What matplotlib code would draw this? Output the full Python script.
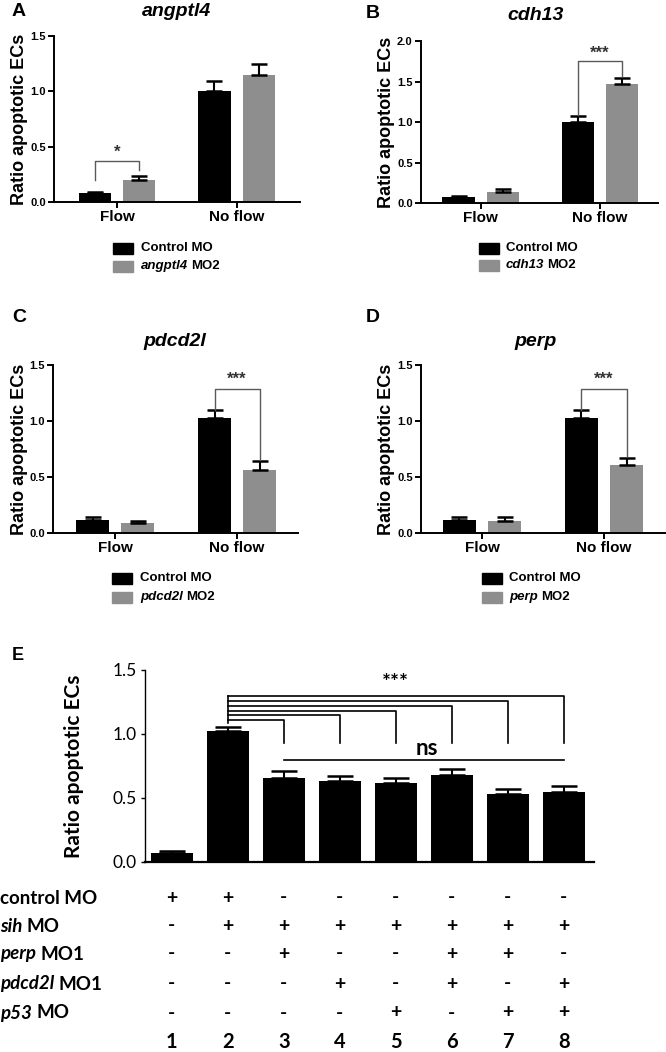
import matplotlib
matplotlib.use('Agg')
import matplotlib.pyplot as plt
import numpy as np
from matplotlib.patches import Rectangle
from matplotlib.transforms import blended_transform_factory

plt.rcParams['font.family'] = 'Liberation Sans'
plt.rcParams['font.weight'] = 'bold'

W, H = 666, 1052
GREY = '#8e8e8e'

groups = ['Flow', 'No flow']

# A - angptl4
a_ctrl, a_ctrl_err = [0.08, 1.00], [0.01, 0.09]
a_mo, a_mo_err = [0.20, 1.15], [0.035, 0.10]
# B - cdh13
b_ctrl, b_ctrl_err = [0.07, 1.00], [0.012, 0.08]
b_mo, b_mo_err = [0.14, 1.47], [0.03, 0.075]
# C - pdcd2l
c_ctrl, c_ctrl_err = [0.12, 1.03], [0.025, 0.065]
c_mo, c_mo_err = [0.09, 0.56], [0.02, 0.08]
# D - perp
d_ctrl, d_ctrl_err = [0.12, 1.03], [0.025, 0.065]
d_mo, d_mo_err = [0.11, 0.61], [0.03, 0.06]

# E
e_lanes = ['1', '2', '3', '4', '5', '6', '7', '8']
e_vals = [0.07, 1.02, 0.66, 0.63, 0.62, 0.68, 0.53, 0.55]
e_err = [0.015, 0.035, 0.05, 0.04, 0.04, 0.05, 0.04, 0.04]
e_rows = [[('control MO', 'normal')],
          [('sih', 'italic'), (' MO', 'normal')],
          [('perp', 'italic'), (' MO1', 'normal')],
          [('pdcd2l', 'italic'), (' MO1', 'normal')],
          [('p53', 'italic'), (' MO', 'normal')]]
e_table = [['+', '+', '-', '-', '-', '-', '-', '-'],
           ['-', '+', '+', '+', '+', '+', '+', '+'],
           ['-', '-', '+', '-', '-', '+', '+', '-'],
           ['-', '-', '-', '+', '-', '+', '-', '+'],
           ['-', '-', '-', '-', '+', '-', '+', '+']]
# *** comparisons of lane 2 with lanes 3..8
e_cmp_levels = [1.11, 1.15, 1.18, 1.22, 1.26, 1.30]

fig = plt.figure(figsize=(W / 100, H / 100), dpi=100)


def px_rect(left, top, right, bottom):
    return [left / W, 1 - bottom / H, (right - left) / W, (bottom - top) / H]


def group_panel(rect, xlim, ctrl, ctrl_err, mo, mo_err, ymax, yticks, label_x):
    ax = fig.add_axes(rect)
    x = np.arange(len(groups))
    off, bw = 0.185, 0.27
    ax.bar(x - off, ctrl, bw, color='black', zorder=2)
    ax.bar(x + off, mo, bw, color=GREY, zorder=2)
    ax.errorbar(x - off, ctrl, yerr=[np.zeros(2), ctrl_err], fmt='none',
                ecolor='black', elinewidth=1.5, capsize=5.5, capthick=1.8, zorder=3)
    ax.errorbar(x + off, mo, yerr=[np.zeros(2), mo_err], fmt='none',
                ecolor='black', elinewidth=1.5, capsize=5.5, capthick=1.8, zorder=3)
    ax.set_xlim(*xlim)
    ax.set_ylim(0, ymax)
    ax.set_yticks(yticks)
    ax.set_yticklabels(['%.1f' % v for v in yticks], fontsize=8, fontweight='bold')
    ax.set_xticks(x)
    ax.set_xticklabels(groups, fontsize=11, fontweight='bold')
    for s in ['top', 'right']:
        ax.spines[s].set_visible(False)
    for s in ['left', 'bottom']:
        ax.spines[s].set_linewidth(1.4)
    ax.tick_params(width=1.4, length=4, pad=2)
    ax.set_ylabel('Ratio apoptotic ECs', fontsize=13, fontweight='bold')
    ax.yaxis.set_label_coords(label_x, 0.5)
    return ax


def bracket(ax, i0, i1, y0, ytop, y1, stars, star_y, size=12):
    ax.plot([i0, i0, i1, i1], [y0, ytop, ytop, y1], color='#5a5a5a', lw=1.0, zorder=4)
    ax.text((i0 + i1) / 2, star_y, stars, ha='center', va='center',
            fontsize=size, fontweight='bold', color='#333333')


axA = group_panel(px_rect(54, 36, 300, 202), (-0.527, 1.53), a_ctrl, a_ctrl_err,
                  a_mo, a_mo_err, 1.5, [0, 0.5, 1.0, 1.5], -0.106)
bracket(axA, -0.185, 0.185, 0.20, 0.37, 0.29, '*', 0.45)

axB = group_panel(px_rect(421, 41, 658, 203), (-0.50, 1.49), b_ctrl, b_ctrl_err,
                  b_mo, b_mo_err, 2.0, [0, 0.5, 1.0, 1.5, 2.0], -0.11)
bracket(axB, 1 - 0.185, 1 + 0.185, 1.09, 1.75, 1.57, '***', 1.85)

axC = group_panel(px_rect(53, 365, 298, 533), (-0.51, 1.5), c_ctrl, c_ctrl_err,
                  c_mo, c_mo_err, 1.5, [0, 0.5, 1.0, 1.5], -0.102)
bracket(axC, 1 - 0.185, 1 + 0.185, 1.10, 1.29, 0.65, '***', 1.37)

axD = group_panel(px_rect(421, 365, 665, 533), (-0.50, 1.5), d_ctrl, d_ctrl_err,
                  d_mo, d_mo_err, 1.5, [0, 0.5, 1.0, 1.5], -0.107)
bracket(axD, 1 - 0.185, 1 + 0.185, 1.10, 1.29, 0.69, '***', 1.37)

# panel E
axE = fig.add_axes(px_rect(145, 670, 594, 862))
xe = np.arange(len(e_lanes))
axE.bar(xe, e_vals, 0.75, color='black', zorder=2)
axE.errorbar(xe, e_vals, yerr=[np.zeros(len(xe)), e_err], fmt='none', ecolor='black',
             elinewidth=1.5, capsize=9.5, capthick=1.8, zorder=3)
axE.set_xlim(-0.48, 7.54)
axE.set_ylim(0, 1.5)
axE.set_yticks([0, 0.5, 1.0, 1.5])
axE.set_yticklabels(['0.0', '0.5', '1.0', '1.5'], fontsize=12.5, fontweight='normal', family='Lato')
axE.set_xticks([])
for s in ['top', 'right']:
    axE.spines[s].set_visible(False)
axE.spines['left'].set_linewidth(1.0)
axE.spines['bottom'].set_linewidth(1.6)
axE.tick_params(axis='y', width=1.0, length=3, pad=3)
axE.set_ylabel('Ratio apoptotic ECs', fontsize=15, fontweight='bold', family='Lato')
axE.yaxis.set_label_coords(-0.135, 0.5)

for k, lvl in enumerate(e_cmp_levels):
    j = 2 + k
    axE.plot([1, j, j], [lvl, lvl, 0.93], color='black', lw=1.2, zorder=4)
axE.plot([1, 1], [1.085, max(e_cmp_levels)], color='black', lw=1.2, zorder=4)
axE.text(4.0, 1.40, '***', ha='center', va='center', fontsize=15, fontweight='bold', family='Lato')
axE.plot([2, 7], [0.80, 0.80], color='black', lw=1.2, zorder=4)
axE.text(4.55, 0.885, 'ns', ha='center', va='center', fontsize=16, fontweight='bold', family='Lato')

# overlay in pixel coordinates for titles, legends and table
ov = fig.add_axes([0, 0, 1, 1])
ov.set_xlim(0, W)
ov.set_ylim(H, 0)
ov.axis('off')


def rich_text(x, y, parts, size, family, transform=None):
    tr = transform if transform is not None else ov.transData
    s, st = parts[0]
    t = ov.text(x, y, s, transform=tr, fontsize=size, family=family, fontweight='bold',
                fontstyle=st, ha='left', va='center')
    for s, st in parts[1:]:
        dx = 0.0
        if s.startswith(' '):
            dx = 0.22 * size
            s = s.lstrip()
        t = ov.annotate(s, xy=(1, 0.5), xycoords=t, xytext=(dx, 0), textcoords='offset points',
                        fontsize=size, family=family, fontweight='bold', fontstyle=st,
                        ha='left', va='center', annotation_clip=False)
    return t


for letter, lx, ly in [('A', 12, 12), ('B', 366, 13), ('C', 12, 317), ('D', 366, 317)]:
    ov.text(lx, ly, letter, fontsize=14, fontweight='bold', ha='left', va='center')
ov.text(12, 655, 'E', fontsize=13, fontweight='bold', ha='left', va='center')

for title, tx, ty in [('angptl4', 177, 11), ('cdh13', 536, 15), ('pdcd2l', 175, 342), ('perp', 536, 342)]:
    ov.text(tx, ty, title, fontsize=14, fontweight='bold', fontstyle='italic', ha='center', va='center')

legends = [(113, 141, 248, 266, 'angptl4'), (479, 506, 248, 265, 'cdh13'),
           (112, 140, 578, 597, 'pdcd2l'), (482, 509, 578, 597, 'perp')]
for bx, tx, y1, y2, gene in legends:
    ov.add_patch(Rectangle((bx, y1 - 5.5), 20, 11, color='black'))
    ov.add_patch(Rectangle((bx, y2 - 5.5), 20, 11, color=GREY))
    rich_text(tx, y1, [('Control MO', 'normal')], 9.5, 'Liberation Sans')
    rich_text(tx, y2, [(gene, 'italic'), (' MO2', 'normal')], 9.5, 'Liberation Sans')

# condition table under panel E
row_y = [898, 926, 954, 984, 1013]
tab_tr = blended_transform_factory(axE.transData, ov.transData)
for parts, ry, marks in zip(e_rows, row_y, e_table):
    rich_text(0, ry, parts, 13.5, 'Lato')
    for i, m in enumerate(marks):
        ov.text(i, ry, m, transform=tab_tr, ha='center', va='center',
                fontsize=14, fontweight='bold', family='Lato')
for i, lane in enumerate(e_lanes):
    ov.text(i, 1042, lane, transform=tab_tr, ha='center', va='center',
            fontsize=14.5, fontweight='bold', family='Lato')

fig.savefig('out.png', dpi=100)
